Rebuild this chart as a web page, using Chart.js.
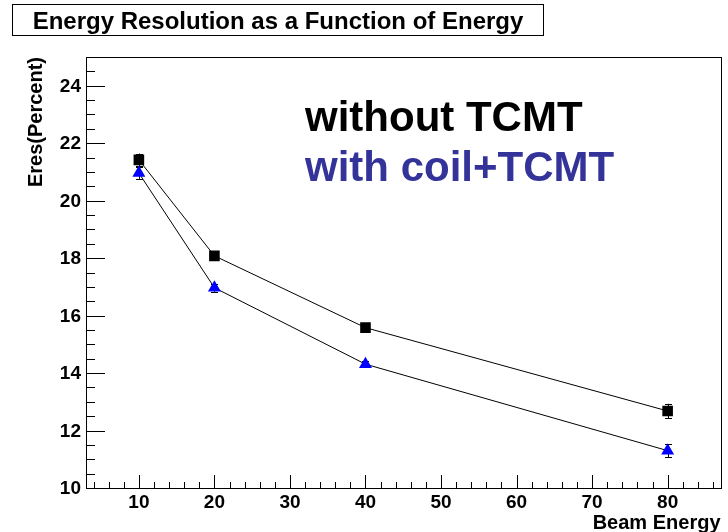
<!DOCTYPE html>
<html>
<head>
<meta charset="utf-8">
<script src="https://cdn.jsdelivr.net/npm/chart.js@4"></script>
<style>
  html, body { margin: 0; padding: 0; background: #fff; }
  #wrap { width: 728px; height: 532px; }
</style>
</head>
<body>
<div id="wrap"><canvas id="eresChart" width="728" height="532"></canvas></div>
<script>
// Beam energies and measured resolution (percent) with errors
const beamEnergy = [10, 20, 40, 80];
const eresNoTcmt = [21.42, 18.08, 15.58, 12.68];
const errNoTcmt = [0.22, 0.15, 0.12, 0.25];
const eresCoilTcmt = [20.96, 16.97, 14.31, 11.30];
const errCoilTcmt = [0.20, 0.14, 0.10, 0.22];

// Axis ranges and labelled ticks
const xRange = [3, 87];
const yRange = [10, 25];
const xTickLabels = [10, 20, 30, 40, 50, 60, 70, 80];
const yTickLabels = [10, 12, 14, 16, 18, 20, 22, 24];

const FONT = '"Liberation Sans", Arial, Helvetica, sans-serif';

function toPoints(xs, ys) {
    return xs.map((x, i) => ({ x: x, y: ys[i] }));
}

// Frame, inward ticks, labels, title box and the big legend text
const frameAndText = {
    id: 'frameAndText',
    beforeDraw(chart) {
        const c = chart.ctx;
        c.save();
        c.fillStyle = '#fff';
        c.fillRect(0, 0, chart.width, chart.height);
        c.restore();
    },
    beforeDatasetsDraw(chart) {
        // error bars under the markers
        const c = chart.ctx;
        const xs = chart.scales.x, ys = chart.scales.y;
        c.save();
        c.strokeStyle = '#000';
        c.lineWidth = 1;
        [[eresNoTcmt, errNoTcmt], [eresCoilTcmt, errCoilTcmt]].forEach(([vals, errs]) => {
            vals.forEach((v, i) => {
                const px = Math.round(xs.getPixelForValue(beamEnergy[i])) + 0.5;
                const top = ys.getPixelForValue(v + errs[i]);
                const bot = ys.getPixelForValue(v - errs[i]);
                c.beginPath();
                c.moveTo(px, top); c.lineTo(px, bot);
                c.moveTo(px - 3.5, Math.round(top) + 0.5); c.lineTo(px + 3.5, Math.round(top) + 0.5);
                c.moveTo(px - 3.5, Math.round(bot) + 0.5); c.lineTo(px + 3.5, Math.round(bot) + 0.5);
                c.stroke();
            });
        });
        c.restore();
    },
    afterDraw(chart) {
        const c = chart.ctx;
        const a = chart.chartArea;
        const xs = chart.scales.x, ys = chart.scales.y;
        c.save();
        c.strokeStyle = '#000';
        c.lineWidth = 1;
        c.strokeRect(Math.round(a.left) + 0.5, Math.round(a.top) + 0.5,
            Math.round(a.right - a.left), Math.round(a.bottom - a.top));

        // x ticks: major every 10, minor every 2
        c.beginPath();
        for (let v = 4; v <= xRange[1]; v += 2) {
            const px = Math.round(xs.getPixelForValue(v)) + 0.5;
            const len = v % 10 === 0 ? 13 : 6;
            c.moveTo(px, a.bottom); c.lineTo(px, a.bottom - len);
        }
        // y ticks: major every 2, minor every 0.5
        for (let v = yRange[0]; v <= yRange[1] - 0.01; v += 0.5) {
            const py = Math.round(ys.getPixelForValue(v)) + 0.5;
            const len = Math.abs(v % 2) < 1e-6 ? 19 : 9;
            c.moveTo(a.left, py); c.lineTo(a.left + len, py);
        }
        c.stroke();

        c.fillStyle = '#000';
        c.font = 'bold 19px ' + FONT;
        c.textAlign = 'center';
        c.textBaseline = 'top';
        xTickLabels.forEach(v => c.fillText(String(v), xs.getPixelForValue(v), a.bottom + 5));
        c.textAlign = 'right';
        c.textBaseline = 'middle';
        yTickLabels.forEach(v => c.fillText(String(v), a.left - 5, ys.getPixelForValue(v) + 1));

        // axis titles
        c.font = 'bold 20px ' + FONT;
        c.textAlign = 'right';
        c.textBaseline = 'alphabetic';
        c.fillText('Beam Energy', a.right, 529);
        c.save();
        c.translate(42, a.top);
        c.rotate(-Math.PI / 2);
        c.textAlign = 'right';
        c.fillText('Eres(Percent)', 0, 0);
        c.restore();

        // title box
        c.fillStyle = '#fff';
        c.fillRect(12, 4, 531, 31);
        c.strokeRect(12.5, 4.5, 531, 31);
        c.fillStyle = '#000';
        c.font = 'bold 24px ' + FONT;
        c.textAlign = 'center';
        c.fillText('Energy Resolution as a Function of Energy', 278, 29);

        // legend text
        c.font = 'bold 42px ' + FONT;
        c.textAlign = 'left';
        c.fillStyle = '#000';
        c.fillText('without TCMT', 305, 131);
        c.fillStyle = '#333399';
        c.fillText('with coil+TCMT', 305, 181);
        c.restore();
    }
};

const ctx = document.getElementById('eresChart').getContext('2d');
const eresChart = new Chart(ctx, {
    type: 'scatter',
    data: {
        datasets: [{
            label: 'without TCMT',
            data: toPoints(beamEnergy, eresNoTcmt),
            showLine: true,
            borderColor: '#000',
            borderWidth: 1,
            pointStyle: 'rect',
            pointRadius: 7.5,
            pointBackgroundColor: '#000',
            pointBorderColor: '#000',
            pointBorderWidth: 0,
            order: 2
        }, {
            label: 'with coil+TCMT',
            data: toPoints(beamEnergy, eresCoilTcmt),
            showLine: true,
            borderColor: '#000',
            borderWidth: 1,
            pointStyle: 'triangle',
            pointRadius: 7.5,
            pointBackgroundColor: '#0000ff',
            pointBorderColor: '#0000ff',
            pointBorderWidth: 0,
            order: 1
        }]
    },
    options: {
        responsive: false,
        animation: false,
        devicePixelRatio: 1,
        layout: { padding: { left: 86, top: 57, right: 7, bottom: 44 } },
        plugins: {
            legend: { display: false },
            title: { display: false },
            tooltip: { enabled: false }
        },
        scales: {
            x: { type: 'linear', min: xRange[0], max: xRange[1], display: false },
            y: { type: 'linear', min: yRange[0], max: yRange[1], display: false }
        }
    },
    plugins: [frameAndText]
});
</script>
</body>
</html>
